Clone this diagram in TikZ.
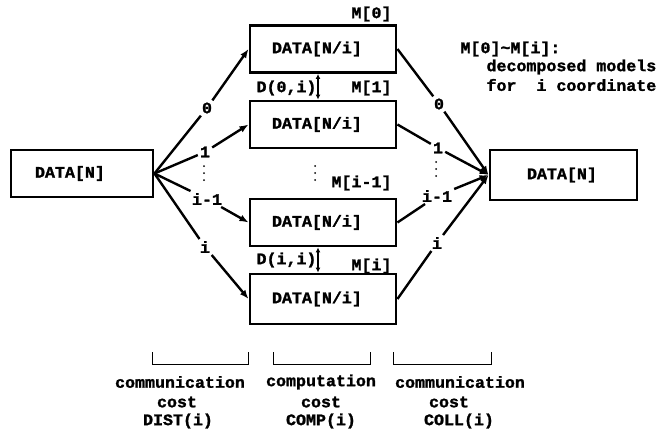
\documentclass[tikz,border=0pt]{standalone}
\usepackage{fontspec}
\newfontfamily\twfont[FakeStretch=1.04, BoldFeatures={FakeBold=1.5}]{Liberation Mono}
\usetikzlibrary{arrows.meta}
\begin{document}
\begin{tikzpicture}[x=1pt,y=-1pt,
  every node/.style={font=\twfont\bfseries\fontsize{16}{16}\selectfont},
  box/.style={draw, line width=2.9pt, minimum height=47pt, inner ysep=0pt, align=left},
  midbox/.style={box, inner xsep=22pt, text width=102pt},
  lbl/.style={inner sep=2pt},
  conn/.style={line width=2.4pt},
  arr/.style={conn, -{Latex[length=9pt,width=7pt]}},
  darr/.style={line width=1.6pt, {Latex[length=5pt,width=5pt]}-{Latex[length=5pt,width=5pt]}},
  bracket/.style={line width=1pt},
  dot/.style={fill, circle, inner sep=0pt, minimum size=2pt}]
\useasboundingbox[fill=white] (0,0) rectangle (658,434);

% source and result
\node[box, inner xsep=24pt, text width=94pt] (L) at (82,173.5) {DATA[N]};
\node[box, inner xsep=37pt, text width=73pt, minimum height=50pt] (R) at (563.5,175) {DATA[N]};

% decomposed models
\node[midbox] (B0) at (323,49)    {DATA[N/i]};
\node[midbox] (B1) at (323,124.5) {DATA[N/i]};
\node[midbox] (B2) at (323,222.5) {DATA[N/i]};
\node[midbox, minimum height=50pt] (B3) at (323,299) {DATA[N/i]};

\node[anchor=east] (m0) at (395,14)  {M[0]};
\node[anchor=east] (m1) at (395,88)  {M[1]};
\node[anchor=east] (m2) at (395,183) {M[i-1]};
\node[anchor=east] (m3) at (395,266) {M[i]};
\node[anchor=west] (d0) at (253,88)  {D(0,i)};
\node[anchor=west] (d1) at (253,260) {D(i,i)};

\draw[darr] ([xshift=-5pt]B0.south) -- ([xshift=-5pt]B1.north);
\draw[darr] ([xshift=-5pt]B2.south) -- ([xshift=-5pt]B3.north);

\node[dot] (vd1) at (315,166) {};
\node[dot] (vd2) at (315,173) {};
\node[dot] (vd3) at (315,180) {};

% distribution
\node[lbl] (l0) at (207,108) {0};
\node[lbl] (l1) at (205,152) {1};
\node[lbl] (l2) at (207,199) {i-1};
\node[lbl] (l3) at (205,247) {i};
\node[dot] (ld1) at (204,166) {};
\node[dot] (ld2) at (204,173) {};
\node[dot] (ld3) at (204,180) {};

\draw[conn] (L.east) -- (l0);  \draw[arr] (l0) -- (B0.west);
\draw[conn] (L.east) -- (l1);  \draw[arr] (l1) -- (B1.west);
\draw[conn] (L.east) -- (l2);  \draw[arr] (l2) -- (B2.west);
\draw[conn] (L.east) -- (l3);  \draw[arr] (l3) -- (B3.west);

% collection
\node[lbl] (r0) at (439,104) {0};
\node[lbl] (r1) at (438,148) {1};
\node[lbl] (r2) at (437,196) {i-1};
\node[lbl] (r3) at (437,243) {i};
\node[dot] (rd1) at (436,162) {};
\node[dot] (rd2) at (436,169) {};
\node[dot] (rd3) at (436,176) {};

\draw[conn] (B0.east) -- (r0);  \draw[arr] (r0) -- (R.west);
\draw[conn] (B1.east) -- (r1);  \draw[arr] (r1) -- (R.west);
\draw[conn] (B2.east) -- (r2);  \draw[arr] (r2) -- (R.west);
\draw[conn] (B3.east) -- (r3);  \draw[arr] (r3) -- (R.west);

% legend
\node[anchor=west] (n0) at (457,49) {M[0]\textasciitilde M[i]:};
\node[anchor=west] (n1) at (483,67) {decomposed models};
\node[anchor=west] (n2) at (483,85) {for~~i coordinate};

% cost brackets
\draw[bracket] (152,352) -- (152,364) -- (248,364) -- (248,352);
\draw[bracket] (273,352) -- (273,364) -- (370,364) -- (370,352);
\draw[bracket] (393,352) -- (393,364) -- (491,364) -- (491,352);

\node (c1a) at (180,382) {communication};
\node (c1b) at (177,402) {cost};
\node (c1c) at (178,421) {DIST(i)};
\node (c2a) at (321,382) {computation};
\node (c2b) at (321,402) {cost};
\node (c2c) at (321,421) {COMP(i)};
\node (c3a) at (460,382) {communication};
\node (c3b) at (449,402) {cost};
\node (c3c) at (459,421) {COLL(i)};
\end{tikzpicture}
\end{document}
